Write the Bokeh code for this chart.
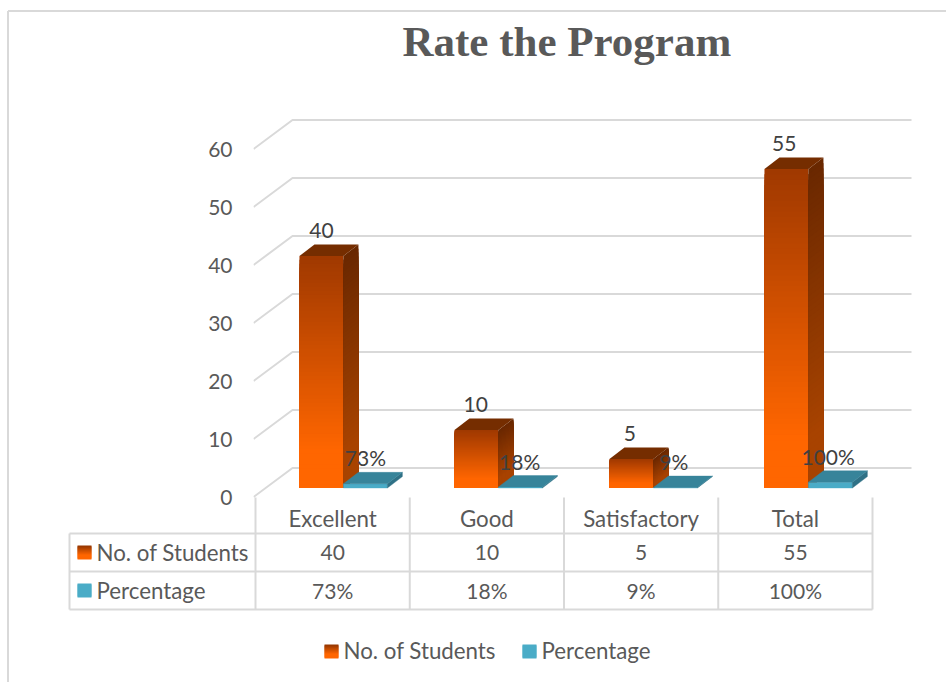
from bokeh.plotting import figure
from bokeh.models import Range1d, LinearAxis, FixedTicker, ColumnDataSource, Title
from bokeh.core.properties import value
from bokeh.embed import file_html
from bokeh.resources import INLINE

categories = ["Excellent", "Good", "Satisfactory", "Total"]
students = [40, 10, 5, 55]
percentages = [0.73, 0.18, 0.09, 1.00]
percent_labels = ["73%", "18%", "9%", "100%"]
y_ticks = [0, 10, 20, 30, 40, 50, 60]
series_names = ["No. of Students", "Percentage"]
title_text = "Rate the Program"

W, H = 946, 682
CAT_PX = 154.25
BAR_STEP = 155 / CAT_PX
UNIT_PX = 5.8
X0_PX, Y0_PX = 255, 487.5        # page pixel of x=0 and of bar base y=0
FRAME_L, FRAME_T, FRAME_B = 253, 70, 499


def X(px):
    return (px - X0_PX) / CAT_PX


def Y(px):
    return (Y0_PX - px) / UNIT_PX


FONT = "Lato"
TXT = "#595959"
LBL = "#404040"
GRID = "#d9d9d9"
WORD_SIZE = "22.3px"
NUM_SIZE = "21px"
BAR_W = 0.285
BAR_OFF = 0.285
DX, DY = 15 / CAT_PX, 11.4 / UNIT_PX
WALL_DX, WALL_DY = 39 / CAT_PX, 29 / UNIT_PX
FRONT_SHIFT = 9 / UNIT_PX        # front floor lies 9px under the bar base


def mix(c1, c2, t):
    a = [int(c1[i:i + 2], 16) for i in (1, 3, 5)]
    b = [int(c2[i:i + 2], 16) for i in (1, 3, 5)]
    return "#%02x%02x%02x" % tuple(round(a[k] + (b[k] - a[k]) * t) for k in range(3))


p = figure(
    width=W, height=H, output_backend="svg", toolbar_location=None,
    x_range=Range1d(X(FRAME_L), X(W)),
    y_range=Range1d(Y(FRAME_B), Y(FRAME_T)),
    min_border_left=FRAME_L, min_border_right=0,
    min_border_top=FRAME_T, min_border_bottom=H - FRAME_B,
    outline_line_color=None, background_fill_color=None, border_fill_color="#ffffff",
    x_axis_location=None, y_axis_location=None,
)
p.grid.visible = False

p.title = Title(text=title_text, align="left", offset=402 - FRAME_L, standoff=12,
                text_font="Liberation Serif", text_font_size="43px",
                text_font_style="bold", text_color=TXT)

# Axes (the value axis sits on the front floor, 9px below the bar base)
p.extra_y_ranges = {"wall": Range1d(Y(FRAME_B) + FRONT_SHIFT, Y(FRAME_T) + FRONT_SHIFT)}
yax = LinearAxis(y_range_name="wall", ticker=FixedTicker(ticks=y_ticks),
                 axis_line_color=None, major_tick_line_color=None, minor_tick_line_color=None,
                 major_tick_out=0, minor_tick_out=0,
                 major_label_text_font=FONT, major_label_text_font_size=NUM_SIZE,
                 major_label_text_color=TXT, major_label_standoff=21)
p.add_layout(yax, "left")
xax = LinearAxis(ticker=FixedTicker(ticks=[i + 0.5 for i in range(len(categories))]),
                 major_label_overrides={i + 0.5: c for i, c in enumerate(categories)},
                 axis_line_color=None, major_tick_line_color=None, minor_tick_line_color=None,
                 major_tick_out=0, minor_tick_out=0,
                 major_label_text_font=FONT, major_label_text_font_size=WORD_SIZE,
                 major_label_text_color=TXT, major_label_standoff=5)
p.add_layout(xax, "below")

# 3D walls
xf, xb, xe = X(253), X(253) + WALL_DX, X(911)
gx, gy = [], []
for t in y_ticks:
    front = t - FRONT_SHIFT
    gx.append([xf, xb, xe])
    gy.append([front, t + WALL_DY - FRONT_SHIFT, t + WALL_DY - FRONT_SHIFT])
p.multi_line(gx, gy, line_color=GRID, line_width=2)

# Gradient bars
FRONT_TOP, FRONT_BOT = "#9e3800", "#ff6600"
SIDE_TOP, SIDE_BOT = "#682700", "#a84300"
TOP_FACE = "#752d00"
N = 60


def gradient_face(x0, x1, y0, y1, skew_y, c_top, c_bot):
    # painted top to bottom; each slice reaches the base so no seams show
    xs, ys, cs = [], [], []
    for k in range(N):
        t0, t1 = k / N, (k + 1) / N
        yt = y1 + (y0 - y1) * t0
        xs.append([x0, x1, x1, x0])
        ys.append([yt, yt + skew_y, y0 + skew_y, y0])
        cs.append(mix(c_top, c_bot, min(1, t1 / 0.85)))
    return xs, ys, cs


def bar(x0, v):
    x1 = x0 + BAR_W
    fx, fy, fc = gradient_face(x0, x1, 0, v, 0, FRONT_TOP, FRONT_BOT)
    sx, sy, sc = gradient_face(x1, x1 + DX, 0, v, DY, SIDE_TOP, SIDE_BOT)
    tx = [[x0, x1, x1 + DX, x0 + DX]]
    ty = [[v, v, v + DY, v + DY]]
    return fx + sx + tx, fy + sy + ty, fc + sc + [TOP_FACE]


bx, by, bc = [], [], []
for i, v in enumerate(students):
    a, b, c = bar(i * BAR_STEP + BAR_OFF, v)
    bx += a; by += b; bc += c
p.patches("x", "y", fill_color="c", line_color=None,
          source=ColumnDataSource(dict(x=bx, y=by, c=bc)))

sx, sy, sc = [], [], []
for i, v in enumerate(percentages):
    x0 = i * BAR_STEP + BAR_OFF + BAR_W
    x1 = x0 + BAR_W
    sx += [[x0, x1, x1, x0], [x1, x1 + DX, x1 + DX, x1], [x0, x1, x1 + DX, x0 + DX]]
    sy += [[v, v, 0, 0], [v, v + DY, DY, 0], [v, v, v + DY, v + DY]]
    sc += ["#4aacc7", "#2f7186", "#37849a"]
p.patches("x", "y", fill_color="c", line_color="c", line_width=0.4,
          source=ColumnDataSource(dict(x=sx, y=sy, c=sc)))

# Data labels
LABEL_GAP = 4.45
p.text([i + BAR_OFF + BAR_W / 2 for i in range(4)], [v + LABEL_GAP for v in students],
       text=[str(v) for v in students], text_font=value(FONT), text_font_size=NUM_SIZE,
       text_color=LBL, text_align="center", text_baseline="middle")
p.text([i + BAR_OFF + BAR_W * 1.5 for i in range(4)], [v + LABEL_GAP for v in percentages],
       text=percent_labels, text_font=value(FONT), text_font_size=NUM_SIZE,
       text_color=LBL, text_align="center", text_baseline="middle")

# Data table under the plot
rows = [Y(533), Y(571), Y(609)]
tx = [[X(69), 4] for _ in rows] + [[c, c] for c in range(5)] + [[X(69), X(69)]]
ty = [[r, r] for r in rows] + [[Y(497), rows[-1]] for _ in range(5)] + [[rows[0], rows[-1]]]
p.multi_line(tx, ty, line_color=GRID, line_width=2, level="overlay")

row_y = [Y(552), Y(590)]
for row, vals in zip(row_y, ([str(v) for v in students], percent_labels)):
    p.text([i + 0.5 for i in range(4)], [row] * 4, text=vals, text_font=value(FONT),
           text_font_size=NUM_SIZE, text_color=TXT, text_align="center",
           text_baseline="middle", level="overlay")
p.text([X(96)] * 2, row_y, text=series_names, text_font=value(FONT), text_font_size=WORD_SIZE,
       text_color=TXT, text_align="left", text_baseline="middle", level="overlay")


def swatch(px, py, gradient):
    # drawn as overlapping rows: line glyphs are not culled outside the plot frame
    xs, ys, cs = [], [], []
    for k in range(13):
        xs.append([X(px), X(px + 14)])
        ys.append([Y(py + k + 1), Y(py + k + 1)])
        cs.append(mix("#8a3100", "#ff6600", min(1, (k + 1) / 10)) if gradient else "#4aacc7")
    p.multi_line(xs, ys, line_color=cs, line_width=2, level="overlay")


swatch(77, 545, True)
swatch(77, 583, False)

# Outer chart border (top and left only are visible in the crop)
p.multi_line([[X(7.5), X(W)], [X(7.5), X(7.5)]],
             [[Y(10.5), Y(10.5)], [Y(10.5), Y(H)]],
             line_color=GRID, line_width=2, level="overlay")

# Legend
swatch(324, 644, True)
swatch(522, 644, False)
p.text([X(343), X(541)], [Y(650)] * 2, text=series_names, text_font=value(FONT),
       text_font_size=WORD_SIZE, text_color=TXT, text_align="left",
       text_baseline="middle", level="overlay")

open("out.html", "w").write(file_html(p, INLINE))
